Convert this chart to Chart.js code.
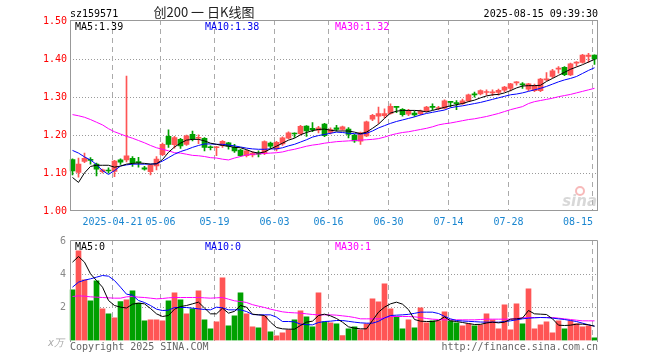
<!DOCTYPE html>
<html><head><meta charset="utf-8">
<script src="https://cdn.jsdelivr.net/npm/chart.js@4.4.1/dist/chart.umd.min.js"></script>
<style>
html,body{margin:0;padding:0;background:#fff;}
#wrap{position:relative;width:660px;height:360px;background:#fff;}
canvas{position:absolute;left:0;top:0;}
</style></head><body>
<div id="wrap"><canvas id="kc" width="660" height="360"></canvas><canvas id="vc" width="660" height="360"></canvas></div>
<script>
const dates=['2025-04-10','2025-04-11','2025-04-14','2025-04-15','2025-04-16','2025-04-17','2025-04-18','2025-04-21','2025-04-22','2025-04-23','2025-04-24','2025-04-25','2025-04-28','2025-04-29','2025-04-30',
'2025-05-06','2025-05-07','2025-05-08','2025-05-09','2025-05-12','2025-05-13','2025-05-14','2025-05-15','2025-05-16','2025-05-19','2025-05-20','2025-05-21','2025-05-22','2025-05-23','2025-05-26','2025-05-27','2025-05-28','2025-05-29','2025-05-30',
'2025-06-03','2025-06-04','2025-06-05','2025-06-06','2025-06-09','2025-06-10','2025-06-11','2025-06-12','2025-06-13','2025-06-16','2025-06-17','2025-06-18','2025-06-19','2025-06-20','2025-06-23','2025-06-24','2025-06-25','2025-06-26','2025-06-27','2025-06-30',
'2025-07-01','2025-07-02','2025-07-03','2025-07-04','2025-07-07','2025-07-08','2025-07-09','2025-07-10','2025-07-11','2025-07-14','2025-07-15','2025-07-16','2025-07-17','2025-07-18','2025-07-21','2025-07-22','2025-07-23','2025-07-24','2025-07-25','2025-07-28','2025-07-29','2025-07-30','2025-07-31',
'2025-08-01','2025-08-04','2025-08-05','2025-08-06','2025-08-07','2025-08-08','2025-08-11','2025-08-12','2025-08-13','2025-08-14','2025-08-15'];
const opens=[1.135,1.101,1.130,1.135,1.123,1.103,1.107,1.104,1.134,1.134,1.138,1.130,1.113,1.103,1.118,1.148,1.196,1.174,1.188,1.175,1.201,1.191,1.191,1.168,1.166,1.172,1.179,1.168,1.160,1.145,1.147,1.152,1.151,1.178,1.163,1.176,1.191,1.204,1.203,1.223,1.217,1.212,1.228,1.206,1.218,1.214,1.215,1.199,1.183,1.197,1.241,1.249,1.250,1.256,1.274,1.267,1.254,1.257,1.255,1.263,1.274,1.269,1.270,1.287,1.284,1.282,1.289,1.307,1.307,1.311,1.310,1.311,1.317,1.322,1.336,1.334,1.320,1.316,1.316,1.344,1.353,1.372,1.377,1.357,1.388,1.390,1.406,1.409];
const highs=[1.137,1.139,1.152,1.140,1.126,1.110,1.113,1.133,1.137,1.354,1.143,1.141,1.117,1.122,1.143,1.178,1.213,1.196,1.191,1.199,1.210,1.200,1.193,1.171,1.170,1.185,1.180,1.175,1.162,1.160,1.155,1.158,1.184,1.181,1.183,1.195,1.208,1.205,1.225,1.224,1.232,1.222,1.230,1.218,1.225,1.223,1.219,1.201,1.207,1.236,1.254,1.273,1.268,1.281,1.274,1.269,1.267,1.262,1.265,1.275,1.281,1.275,1.292,1.287,1.290,1.294,1.307,1.312,1.318,1.318,1.318,1.320,1.327,1.335,1.340,1.337,1.335,1.333,1.348,1.363,1.372,1.379,1.379,1.388,1.392,1.411,1.414,1.410];
const lows=[1.095,1.089,1.127,1.123,1.092,1.100,1.099,1.090,1.122,1.129,1.117,1.115,1.107,1.095,1.108,1.145,1.167,1.165,1.164,1.172,1.184,1.177,1.158,1.160,1.145,1.167,1.162,1.154,1.143,1.142,1.142,1.142,1.148,1.164,1.158,1.172,1.189,1.193,1.200,1.196,1.208,1.205,1.195,1.202,1.210,1.212,1.192,1.180,1.175,1.195,1.237,1.230,1.244,1.254,1.258,1.249,1.250,1.248,1.252,1.260,1.265,1.265,1.268,1.273,1.266,1.280,1.287,1.299,1.305,1.304,1.303,1.304,1.313,1.315,1.330,1.322,1.316,1.313,1.313,1.342,1.350,1.362,1.355,1.355,1.380,1.388,1.390,1.385];
const closes=[1.105,1.123,1.138,1.133,1.110,1.108,1.105,1.131,1.128,1.145,1.126,1.127,1.110,1.120,1.136,1.175,1.175,1.193,1.171,1.197,1.190,1.193,1.167,1.166,1.168,1.183,1.170,1.158,1.145,1.158,1.152,1.149,1.182,1.170,1.180,1.192,1.205,1.202,1.222,1.210,1.213,1.218,1.198,1.214,1.214,1.221,1.201,1.184,1.205,1.234,1.251,1.256,1.256,1.275,1.272,1.253,1.262,1.252,1.262,1.273,1.272,1.271,1.289,1.285,1.282,1.289,1.305,1.305,1.316,1.313,1.313,1.317,1.325,1.334,1.339,1.331,1.334,1.330,1.346,1.347,1.368,1.375,1.358,1.386,1.390,1.409,1.409,1.399];
const ma5=[1.088,1.075,1.100,1.117,1.120,1.120,1.120,1.115,1.118,1.123,1.125,1.126,1.125,1.123,1.124,1.135,1.154,1.168,1.178,1.186,1.188,1.188,1.184,1.178,1.175,1.172,1.170,1.167,1.166,1.161,1.155,1.152,1.155,1.163,1.170,1.178,1.186,1.191,1.200,1.206,1.211,1.214,1.215,1.212,1.210,1.210,1.210,1.207,1.203,1.207,1.217,1.228,1.243,1.257,1.262,1.264,1.264,1.264,1.263,1.260,1.264,1.268,1.272,1.276,1.279,1.282,1.287,1.291,1.297,1.302,1.305,1.306,1.310,1.316,1.323,1.328,1.329,1.329,1.330,1.340,1.348,1.356,1.364,1.372,1.378,1.384,1.391,1.398];
const ma10=[1.159,1.152,1.142,1.134,1.122,1.106,1.096,1.106,1.118,1.121,1.123,1.123,1.123,1.123,1.124,1.131,1.140,1.149,1.156,1.161,1.167,1.172,1.176,1.176,1.175,1.175,1.173,1.171,1.168,1.165,1.163,1.162,1.162,1.163,1.163,1.166,1.171,1.175,1.181,1.187,1.194,1.198,1.201,1.204,1.207,1.206,1.204,1.203,1.202,1.204,1.210,1.218,1.224,1.230,1.235,1.239,1.243,1.247,1.252,1.256,1.259,1.262,1.265,1.271,1.274,1.276,1.279,1.282,1.285,1.289,1.293,1.297,1.301,1.305,1.307,1.310,1.314,1.318,1.322,1.327,1.333,1.339,1.344,1.348,1.353,1.361,1.369,1.376];
const ma30=[1.253,1.250,1.246,1.240,1.233,1.226,1.216,1.208,1.202,1.196,1.191,1.185,1.179,1.172,1.166,1.162,1.158,1.153,1.152,1.149,1.146,1.145,1.143,1.140,1.139,1.136,1.134,1.139,1.143,1.147,1.149,1.150,1.151,1.152,1.153,1.155,1.159,1.162,1.166,1.170,1.173,1.175,1.178,1.180,1.182,1.183,1.184,1.185,1.186,1.187,1.188,1.190,1.194,1.199,1.203,1.206,1.208,1.211,1.214,1.217,1.221,1.226,1.229,1.231,1.234,1.237,1.240,1.242,1.245,1.248,1.252,1.256,1.261,1.266,1.270,1.274,1.282,1.287,1.290,1.293,1.296,1.300,1.303,1.306,1.310,1.314,1.318,1.322];
const volumes=[3.04,5.38,3.64,2.38,3.58,1.90,1.60,1.36,2.34,2.44,2.98,2.24,1.18,1.24,1.24,1.18,2.38,2.86,2.44,1.60,1.90,2.98,1.24,0.70,1.12,3.76,0.88,1.48,2.86,1.60,0.82,0.76,1.48,0.52,0.28,0.46,0.64,1.24,1.78,1.42,0.82,2.86,1.12,1.06,1.00,0.30,0.70,0.82,0.64,1.00,2.50,2.32,3.40,1.90,1.42,0.70,1.24,0.76,1.96,1.06,1.18,1.18,1.72,1.18,1.06,0.88,1.00,0.88,0.94,1.60,1.24,0.70,2.14,0.64,2.20,1.00,3.10,0.70,0.94,1.12,0.46,1.18,0.70,1.18,1.00,0.82,0.88,0.16];
const volMa5=[4.70,5.04,4.70,4.00,3.60,3.20,2.40,2.10,2.00,1.95,2.18,2.24,2.20,1.92,1.60,1.44,1.50,1.88,2.04,2.10,2.20,2.30,1.95,1.60,1.60,1.94,1.64,1.75,2.10,2.00,1.58,1.54,1.50,1.10,0.78,0.70,0.68,0.68,0.90,1.10,1.16,1.50,1.58,1.48,1.32,1.10,0.82,0.74,0.70,0.70,1.20,1.70,2.00,2.20,2.30,2.18,1.85,1.26,1.16,1.14,1.14,1.20,1.42,1.18,1.14,1.08,1.02,0.96,0.97,1.05,1.10,1.06,1.10,1.28,1.30,1.35,1.80,1.60,1.58,1.56,1.30,0.92,0.90,0.92,0.98,0.98,0.94,0.86];
const volMa10=[3.20,3.50,3.62,3.70,3.80,3.90,3.86,3.60,3.20,2.78,2.72,2.40,2.28,2.10,1.88,1.80,1.82,1.98,1.98,1.98,1.94,1.90,1.86,1.84,2.00,1.96,1.84,1.84,1.84,1.74,1.56,1.54,1.54,1.54,1.40,1.14,1.14,1.12,0.98,0.95,0.94,1.08,1.14,1.16,1.20,1.20,1.15,1.10,1.06,1.04,1.04,1.15,1.35,1.50,1.52,1.54,1.57,1.63,1.70,1.70,1.70,1.62,1.45,1.30,1.20,1.17,1.15,1.13,1.11,1.10,1.10,1.10,1.14,1.18,1.24,1.30,1.34,1.36,1.38,1.37,1.34,1.30,1.26,1.20,1.14,1.04,0.94,0.86];
const volMa30=[2.64,2.68,2.66,2.62,2.60,2.58,2.56,2.54,2.54,2.62,2.64,2.60,2.58,2.54,2.50,2.52,2.56,2.58,2.58,2.58,2.58,2.58,2.56,2.54,2.56,2.58,2.48,2.38,2.34,2.28,2.15,2.06,1.98,1.88,1.80,1.72,1.68,1.66,1.64,1.60,1.56,1.54,1.54,1.54,1.52,1.48,1.44,1.38,1.30,1.30,1.30,1.30,1.36,1.44,1.44,1.44,1.44,1.42,1.38,1.32,1.28,1.26,1.24,1.24,1.24,1.24,1.24,1.24,1.26,1.28,1.28,1.28,1.28,1.28,1.32,1.36,1.38,1.38,1.38,1.38,1.38,1.34,1.30,1.26,1.22,1.18,1.18,1.18];
const tickDates=['2025-04-21','2025-05-06','2025-05-19','2025-06-03','2025-06-16','2025-06-30','2025-07-14','2025-07-28','2025-08-15'];
const tickLabels=['2025-04-21','05-06','05-19','06-03','06-16','06-30','07-14','07-28','08-15'];
const priceTicks=[1.00,1.10,1.20,1.30,1.40,1.50];
const volTicks=[2,4,6];
const headerCode='sz159571';
const headerTitle='创200 一 日K线图';
const headerTime='2025-08-15 09:39:30';
const priceMaText=['MA5:1.39','MA10:1.38','MA30:1.32'];
const volMaText=['MA5:0','MA10:0','MA30:1'];
const volUnit='x万';

const RED='rgb(255,85,85)', GREEN='rgb(0,160,0)';
const MONO='10px "DejaVu Sans Mono", monospace';
const upColors=opens.map((o,i)=>closes[i]>=o?RED:GREEN);

function vGrid(chart){
  const {ctx,chartArea:a,scales:{x}}=chart;
  ctx.save();ctx.strokeStyle='#aaaaaa';ctx.lineWidth=1;ctx.setLineDash([5,4]);
  tickDates.forEach(d=>{
    const i=dates.indexOf(d);
    const px=Math.floor(x.getPixelForValue(i)-2.5)+0.5;
    ctx.beginPath();ctx.moveTo(px,Math.floor(a.top));ctx.lineTo(px,Math.ceil(a.bottom));ctx.stroke();
  });
  ctx.restore();
}
function hGrid(chart,vals){
  const {ctx,chartArea:a,scales:{y}}=chart;
  ctx.save();ctx.strokeStyle='#9a9a9a';ctx.lineWidth=1;ctx.setLineDash([1,2]);
  vals.forEach(v=>{
    const py=Math.round(y.getPixelForValue(v))+0.5;
    ctx.beginPath();ctx.moveTo(70,py);ctx.lineTo(597,py);ctx.stroke();
  });
  ctx.restore();
}
const priceDeco={
  id:'priceDeco',
  beforeDatasetsDraw(chart){
    hGrid(chart,priceTicks.filter(v=>v>1.0&&v<1.5));
    vGrid(chart);
  },
  afterDraw(chart){
    const {ctx,chartArea:a,scales:{x,y}}=chart;
    ctx.save();
    ctx.strokeStyle='#999';ctx.lineWidth=1;ctx.setLineDash([]);
    ctx.strokeRect(70.5,20.5,527,190);
    ctx.font=MONO;
    ctx.fillStyle='#ff0000';ctx.textAlign='right';ctx.textBaseline='middle';
    priceTicks.forEach(v=>ctx.fillText(v.toFixed(2),67,Math.round(y.getPixelForValue(v))+0.5));
    ctx.fillStyle='#1a86d0';ctx.textBaseline='alphabetic';
    tickDates.forEach((d,k)=>{
      const i=dates.indexOf(d);
      const px=Math.floor(x.getPixelForValue(i)-2.5)+0.5;
      const w=ctx.measureText(tickLabels[k]).width;
      if(px+w/2>a.right){ctx.textAlign='right';ctx.fillText(tickLabels[k],593,225);}
      else{ctx.textAlign='center';ctx.fillText(tickLabels[k],px,225);}
    });
    ctx.textAlign='left';
    ctx.fillStyle='#000';ctx.fillText(priceMaText[0],75,30);
    ctx.fillStyle='#0000ee';ctx.fillText(priceMaText[1],205,30);
    ctx.fillStyle='#ff00ff';ctx.fillText(priceMaText[2],335,30);
    ctx.fillStyle='#000';ctx.fillText(headerCode,70,17);
    ctx.textAlign='right';ctx.fillText(headerTime,598,17);
    ctx.textAlign='center';ctx.fillStyle='#222';
    ctx.font='13px "Noto Sans CJK SC", sans-serif';
    ctx.fillText(headerTitle,204,17);
    // sina watermark
    ctx.globalAlpha=0.55;
    ctx.strokeStyle='#f08080';ctx.lineWidth=2;
    ctx.beginPath();ctx.arc(580,191,4,0,Math.PI*2);ctx.stroke();
    ctx.fillStyle='#b8b8b8';ctx.font='italic bold 15px "DejaVu Sans", sans-serif';
    ctx.textAlign='right';ctx.fillText('sina',597,206);
    ctx.restore();
  }
};
const volDeco={
  id:'volDeco',
  beforeDatasetsDraw(chart){
    hGrid(chart,volTicks.filter(v=>v<6));
    vGrid(chart);
  },
  afterDraw(chart){
    const {ctx,scales:{y}}=chart;
    ctx.save();
    ctx.strokeStyle='#999';ctx.lineWidth=1;ctx.setLineDash([]);
    ctx.beginPath();ctx.moveTo(70.5,342);ctx.lineTo(70.5,240.5);ctx.lineTo(597.5,240.5);ctx.lineTo(597.5,342);ctx.stroke();
    ctx.font=MONO;ctx.fillStyle='#888';ctx.textAlign='right';ctx.textBaseline='middle';
    volTicks.forEach(v=>ctx.fillText(String(v),66,Math.round(y.getPixelForValue(v))+0.5));
    ctx.fillStyle='#aaa';ctx.font='italic 10px "DejaVu Sans", sans-serif';ctx.textBaseline='alphabetic';
    ctx.fillText(volUnit,64,346);
    ctx.font=MONO;ctx.textAlign='left';
    ctx.fillStyle='#000';ctx.fillText(volMaText[0],75,250);
    ctx.fillStyle='#0000ee';ctx.fillText(volMaText[1],205,250);
    ctx.fillStyle='#ff00ff';ctx.fillText(volMaText[2],335,250);
    ctx.fillStyle='#666';ctx.fillText('Copyright 2025 SINA.COM',70,350);
    ctx.textAlign='right';ctx.fillText('http://finance.sina.com.cn',598,350);
    ctx.restore();
  }
};
const lineDs=(data,color,order)=>({type:'line',data,borderColor:color,borderWidth:1,pointRadius:0,tension:0,fill:false,order});
const baseOpts=(ymin,ymax,pad)=>({
  responsive:false,animation:false,devicePixelRatio:1,
  layout:{padding:pad},
  plugins:{legend:{display:false},tooltip:{enabled:false}},
  scales:{
    x:{type:'category',display:false,offset:true,grid:{display:false}},
    y:{display:false,min:ymin,max:ymax,grid:{display:false}}
  }
});
new Chart(document.getElementById('kc'),{
  type:'bar',
  data:{labels:dates,datasets:[
    {type:'bar',data:lows.map((l,i)=>[l,highs[i]]),backgroundColor:upColors,barThickness:1,grouped:false,order:5,minBarLength:1},
    {type:'bar',data:opens.map((o,i)=>[o,closes[i]]),backgroundColor:upColors,barThickness:5,grouped:false,order:4,minBarLength:1},
    lineDs(ma30,'#ff00ff',3),lineDs(ma10,'#0000ff',2),lineDs(ma5,'#000000',1)
  ]},
  options:baseOpts(1.0,1.5,{left:69.5,right:62.5,top:20.5,bottom:149}),
  plugins:[priceDeco]
});
new Chart(document.getElementById('vc'),{
  type:'bar',
  data:{labels:dates,datasets:[
    {type:'bar',data:volumes,backgroundColor:upColors,barThickness:5,grouped:false,order:4},
    lineDs(volMa30,'#ff00ff',3),lineDs(volMa10,'#0000ff',2),lineDs(volMa5,'#000000',1)
  ]},
  options:baseOpts(0,6,{left:69.5,right:62.5,top:240.5,bottom:19.5}),
  plugins:[volDeco]
});
</script></body></html>
